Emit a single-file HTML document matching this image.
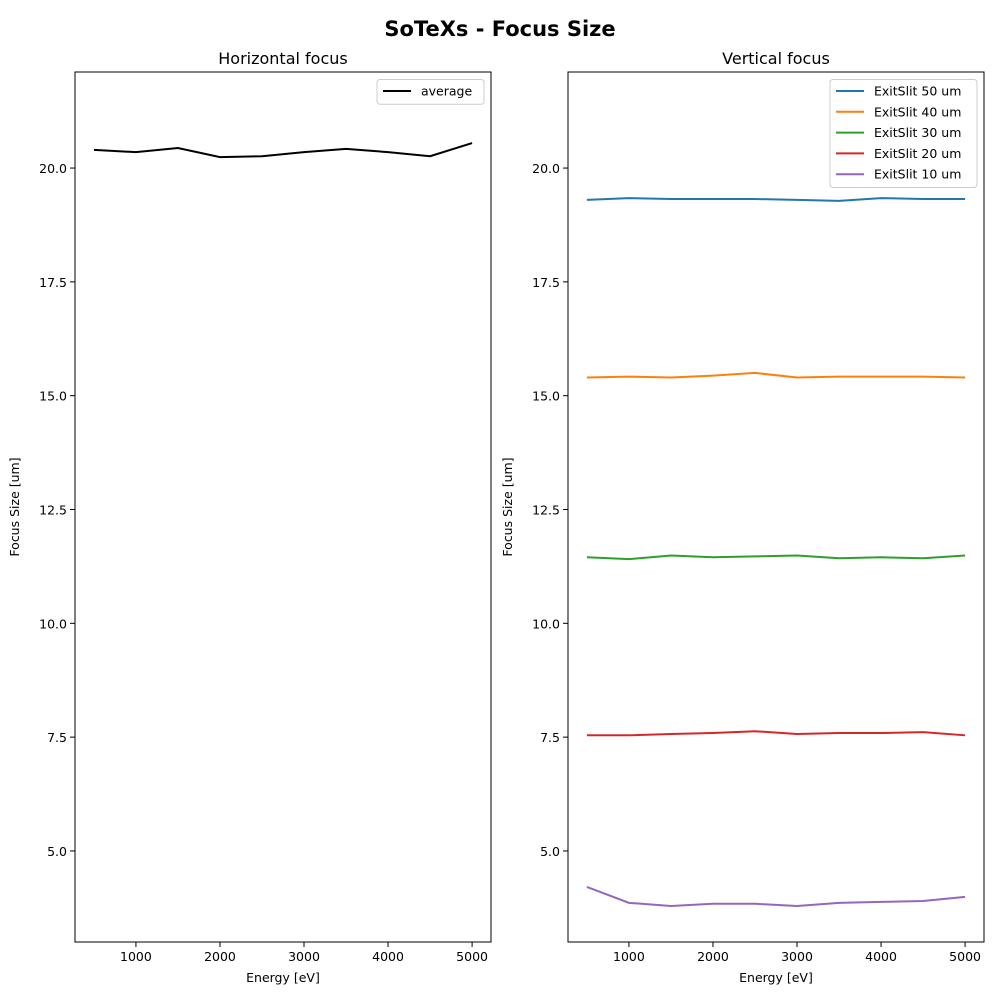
<!DOCTYPE html>
<html><head><meta charset="utf-8"><style>
html,body{margin:0;padding:0;background:#fff;}
svg{display:block;font-family:"DejaVu Sans","Liberation Sans",sans-serif;}
</style></head><body>
<svg id="chart" width="1000" height="1000" viewBox="0 0 1000 1000" xmlns="http://www.w3.org/2000/svg">
<text x="500" y="36" text-anchor="middle" font-size="21" font-weight="bold">SoTeXs - Focus Size</text>
</svg>
<script>
const energies=[500,1000,1500,2000,2500,3000,3500,4000,4500,5000];
const xTicks=[1000,2000,3000,4000,5000];
const yTicks=[5.0,7.5,10.0,12.5,15.0,17.5,20.0];
const hAverage=[20.40,20.35,20.44,20.24,20.26,20.35,20.42,20.35,20.26,20.55];
const slit50=[19.30,19.34,19.32,19.32,19.32,19.30,19.28,19.34,19.32,19.32];
const slit40=[15.40,15.42,15.40,15.44,15.50,15.40,15.42,15.42,15.42,15.40];
const slit30=[11.45,11.41,11.49,11.45,11.47,11.49,11.43,11.45,11.43,11.49];
const slit20=[7.54,7.54,7.57,7.59,7.63,7.57,7.59,7.59,7.61,7.54];
const slit10=[4.21,3.86,3.79,3.84,3.84,3.79,3.86,3.88,3.90,3.99];
const vLabels=["ExitSlit 50 um","ExitSlit 40 um","ExitSlit 30 um","ExitSlit 20 um","ExitSlit 10 um"];
const vColors=["#1f77b4","#ff7f0e","#2ca02c","#d62728","#9467bd"];

const NS="http://www.w3.org/2000/svg";
const svg=document.getElementById('chart');
function mk(tag,attrs,parent){const e=document.createElementNS(NS,tag);for(const k in attrs)e.setAttribute(k,attrs[k]);(parent||svg).appendChild(e);return e;}
const Y0=72,Y1=942,XMIN=275,XMAX=5225,YMIN=3.0,YMAX=22.11;

function panel(left,title,series,colors,labels,legendW,name){
  const right=left+416;
  const g=mk('g',{});
  
  
  const sx=v=>left+(v-XMIN)/(XMAX-XMIN)*(right-left);
  const sy=v=>Y1-(v-YMIN)/(YMAX-YMIN)*(Y1-Y0);
  const t=mk('text',{x:(left+right)/2,y:64,'text-anchor':'middle','font-size':16},g);t.textContent=title;
  
  
  xTicks.forEach(v=>{const x=sx(v);mk('line',{x1:x,x2:x,y1:Y1,y2:Y1+5,stroke:'#000','stroke-width':1},g);
    const l=mk('text',{x:x,y:Y1+19,'text-anchor':'middle','font-size':12.5},g);l.textContent=v;
    
    });
  yTicks.forEach(v=>{const y=sy(v);mk('line',{x1:left-5,x2:left,y1:y,y2:y,stroke:'#000','stroke-width':1},g);
    const l=mk('text',{x:left-8,y:y+5,'text-anchor':'end','font-size':12.5},g);l.textContent=v.toFixed(1);
    
    });
  const xl=mk('text',{x:(left+right)/2,y:982,'text-anchor':'middle','font-size':12.5},g);xl.textContent='Energy [eV]';
  
  
  const yl=mk('text',{x:0,y:0,'text-anchor':'middle','font-size':12.5,transform:`translate(${left-56},${(Y0+Y1)/2}) rotate(-90)`},g);yl.textContent='Focus Size [um]';
  
  
  series.forEach((s,i)=>{
    const p=mk('polyline',{points:s.map((v,j)=>sx(energies[j])+','+sy(v)).join(' '),fill:'none',stroke:colors[i],'stroke-width':2},g);
    
    
  });
  mk('rect',{x:left,y:Y0,width:right-left,height:Y1-Y0,fill:'none',stroke:'#000','stroke-width':1},g);
  const lg=mk('g',{},g);
  
  
  const lx=right-7-legendW;
  mk('rect',{x:lx,y:79.5,width:legendW,height:4+labels.length*20.8,fill:'#fff',stroke:'#ccc',rx:3},lg);
  labels.forEach((lab,i)=>{const y=91+i*20.8;
    mk('line',{x1:lx+6,x2:lx+34,y1:y,y2:y,stroke:colors[i],'stroke-width':2},lg);
    const tx=mk('text',{x:lx+44,y:y+4.5,'font-size':12.5},lg);tx.textContent=lab;
    
    });
}
panel(75,'Horizontal focus',[hAverage],['#000'],['average'],107,'horizontal-panel');
panel(568,'Vertical focus',[slit50,slit40,slit30,slit20,slit10],vColors,vLabels,147,'vertical-panel');
</script>
</body></html>
